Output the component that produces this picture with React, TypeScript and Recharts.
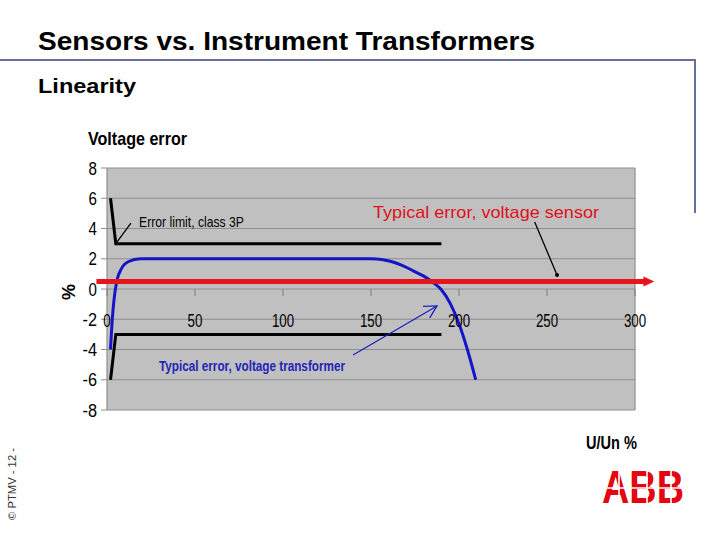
import React from 'react';
import { LineChart, Line, XAxis, YAxis, CartesianGrid, ReferenceLine } from 'recharts';

// ---------- data ----------
const limitX = [2, 5, 190];
const upperLimit = [6, 3, 3];
const lowerLimit = [-6, -3, -3];

const vtX = [2, 3, 4, 5.5, 8, 12, 19, 150, 156, 162, 168, 174, 180, 185, 190, 195, 200, 205, 209.5];
const vtError = [-4, -2, -0.7, 0.5, 1.3, 1.8, 2.0, 2.0, 1.95, 1.8, 1.55, 1.2, 0.85, 0.45, -0.05, -0.95, -2.3, -4.1, -6];

const sensorX = [-6, 311];
const sensorError = [0.5, 0.5];

const xTicks = [0, 50, 100, 150, 200, 250, 300];
const yTicks = [-8, -6, -4, -2, 0, 2, 4, 6, 8];

// annotation pointers (data coordinates)
const limitPointerX = [5, 13.6];
const limitPointerY = [3, 4.36];
const sensorPointerX = [243, 255.7];
const sensorPointerY = [4.43, 0.93];
const vtArrowX = [139.8, 187.5];
const vtArrowY = [-4.36, -1.12];

// ---------- layout ----------
const W = 720;
const H = 540;
const MARGIN = { top: 168, right: 85, bottom: 100, left: 67 };
const Y_AXIS_W = 40;
const X_AXIS_H = 30;
const PLOT_TOP = MARGIN.top;
const PLOT_H = H - MARGIN.top - MARGIN.bottom - X_AXIS_H;
const ZERO_Y = PLOT_TOP + PLOT_H / 2;

const NARROW = "'Liberation Sans Narrow', 'Arial Narrow', 'DejaVu Sans Condensed', sans-serif";
const ARIAL = "'Liberation Sans', Arial, sans-serif";

const toPts = (xs: number[], ys: number[]) => xs.map((x, i) => ({ x, y: ys[i] }));
const upperData = toPts(limitX, upperLimit);
const lowerData = toPts(limitX, lowerLimit);
const vtData = toPts(vtX, vtError);

const XTick = (props: any) => {
  const { x, payload } = props;
  const s = String(payload.value);
  return (
    <g>
      <line x1={x} x2={x} y1={ZERO_Y} y2={ZERO_Y + 7} stroke="#7c7c7c" strokeWidth={1} />
      <text
        x={x}
        y={ZERO_Y + 38}
        textAnchor="middle"
        fontFamily={ARIAL}
        fontSize={18}
        textLength={s.length * 7.4}
        lengthAdjust="spacingAndGlyphs"
        fill="#000"
      >
        {s}
      </text>
    </g>
  );
};

const YTick = (props: any) => {
  const { x, y, payload } = props;
  const s = String(payload.value);
  return (
    <text
      x={x}
      y={y}
      dy={6.5}
      textAnchor="end"
      fontFamily={ARIAL}
      fontSize={18}
      textLength={s.length === 1 ? 8.4 : 14.5}
      lengthAdjust="spacingAndGlyphs"
      fill="#000"
    >
      {s}
    </text>
  );
};

const RedArrow = (p: any) => {
  const { x1, y1, x2, y2 } = p;
  return (
    <g>
      <line x1={x1} y1={y1} x2={x2 - 8} y2={y2} stroke="#e8141c" strokeWidth={5} />
      <polygon points={`${x2 - 11},${y2 - 5} ${x2},${y2} ${x2 - 11},${y2 + 5}`} fill="#e8141c" />
    </g>
  );
};

const Pointer = (p: any) => {
  const { x1, y1, x2, y2 } = p;
  return <line x1={x1} y1={y1} x2={x2} y2={y2} stroke="#000" strokeWidth={1.3} />;
};

const DotPointer = (p: any) => {
  const { x1, y1, x2, y2 } = p;
  return (
    <g>
      <line x1={x1} y1={y1} x2={x2} y2={y2} stroke="#000" strokeWidth={1.3} />
      <circle cx={x2} cy={y2} r={2} fill="#000" />
    </g>
  );
};

const OpenArrow = (p: any) => {
  const { x1, y1, x2, y2 } = p;
  const a = Math.atan2(y2 - y1, x2 - x1);
  const L = 14;
  const s = 0.5;
  const w1x = x2 - L * Math.cos(a - s);
  const w1y = y2 - L * Math.sin(a - s);
  const w2x = x2 - L * Math.cos(a + s);
  const w2y = y2 - L * Math.sin(a + s);
  return (
    <g stroke="#2020c0" strokeWidth={1.3} fill="none">
      <line x1={x1} y1={y1} x2={x2} y2={y2} />
      <polyline points={`${w1x},${w1y} ${x2},${y2} ${w2x},${w2y}`} />
    </g>
  );
};

export default function App() {
  return (
    <div style={{ position: 'absolute', left: 0, top: 0, width: W, height: H, background: '#fff' }}>
      <LineChart width={W} height={H} margin={MARGIN}>
        <CartesianGrid
          fill="#c0c0c0"
          stroke="#8e8e8e"
          strokeWidth={1.2}
          horizontalValues={yTicks}
          verticalValues={[0, 300]}
        />
        <XAxis
          type="number"
          dataKey="x"
          domain={[0, 300]}
          ticks={xTicks}
          allowDataOverflow
          axisLine={false}
          tickLine={false}
          height={X_AXIS_H}
          tick={<XTick />}
          interval={0}
        />
        <YAxis
          type="number"
          dataKey="y"
          domain={[-8, 8]}
          ticks={yTicks}
          allowDataOverflow
          axisLine={false}
          tickLine={{ stroke: '#8e8e8e' }}
          tickSize={6}
          tickMargin={4}
          width={Y_AXIS_W}
          tick={<YTick />}
          interval={0}
        />
        <Line data={upperData} dataKey="y" type="linear" stroke="#000" strokeWidth={3} dot={false} isAnimationActive={false} />
        <Line data={lowerData} dataKey="y" type="linear" stroke="#000" strokeWidth={3} dot={false} isAnimationActive={false} />
        <Line data={vtData} dataKey="y" type="monotone" stroke="#1414c8" strokeWidth={3} dot={false} isAnimationActive={false} />
        <ReferenceLine
          segment={toPts(sensorX, sensorError)}
          ifOverflow="visible"
          shape={(p: any) => <RedArrow {...p} />}
        />
        <ReferenceLine
          segment={toPts(limitPointerX, limitPointerY)}
          ifOverflow="visible"
          shape={(p: any) => <Pointer {...p} />}
        />
        <ReferenceLine
          segment={toPts(sensorPointerX, sensorPointerY)}
          ifOverflow="visible"
          shape={(p: any) => <DotPointer {...p} />}
        />
        <ReferenceLine
          segment={toPts(vtArrowX, vtArrowY)}
          ifOverflow="visible"
          shape={(p: any) => <OpenArrow {...p} />}
        />
      </LineChart>
      <svg
        width={W}
        height={H}
        style={{ position: 'absolute', left: 0, top: 0, pointerEvents: 'none' }}
      >
        <text x={38} y={50} fontFamily={ARIAL} fontWeight="bold" fontSize={26} textLength={497} lengthAdjust="spacingAndGlyphs" fill="#000">
          Sensors vs. Instrument Transformers
        </text>
        <polyline points="0,60 695,60 695,213" fill="none" stroke="#6a6e9e" strokeWidth={2} />
        <text x={38} y={93} fontFamily={ARIAL} fontWeight="bold" fontSize={20} textLength={98} lengthAdjust="spacingAndGlyphs" fill="#000">
          Linearity
        </text>
        <text x={88} y={145} fontFamily={ARIAL} fontWeight="bold" fontSize={19} textLength={99} lengthAdjust="spacingAndGlyphs" fill="#000">
          Voltage error
        </text>
        <text x={139} y={227} fontFamily={ARIAL} fontSize={15} textLength={105} lengthAdjust="spacingAndGlyphs" fill="#000">
          Error limit, class 3P
        </text>
        <text x={373} y={218} fontFamily={ARIAL} fontSize={17} textLength={226} lengthAdjust="spacingAndGlyphs" fill="#e0101a">
          Typical error, voltage sensor
        </text>
        <text x={159} y={371} fontFamily={ARIAL} fontWeight="bold" fontSize={15} textLength={186} lengthAdjust="spacingAndGlyphs" fill="#2424b8">
          Typical error, voltage transformer
        </text>
        <text x={0} y={0} transform="translate(75,292) rotate(-90)" textAnchor="middle" fontFamily={ARIAL} fontWeight="bold" fontSize={18} fill="#000">
          %
        </text>
        <text x={586} y={449} fontFamily={ARIAL} fontWeight="bold" fontSize={19} textLength={51} lengthAdjust="spacingAndGlyphs" fill="#000">
          U/Un %
        </text>
        <text x={0} y={0} transform="translate(16,520) rotate(-90)" fontFamily={ARIAL} fontSize={10} textLength={72} lengthAdjust="spacingAndGlyphs" fill="#333">
          © PTMV   - 12 -
        </text>
        <g>
          <text x={602} y={503} fontFamily={ARIAL} fontWeight="bold" fontSize={46} textLength={82} lengthAdjust="spacingAndGlyphs" fill="#e30613">
            ABB
          </text>
          <line x1={598} x2={690} y1={488} y2={488} stroke="#fff" strokeWidth={1.6} />
          <line x1={619} x2={619} y1={466} y2={506} stroke="#fff" strokeWidth={1.6} />
          <line x1={647} x2={647} y1={466} y2={506} stroke="#fff" strokeWidth={1.6} />
          <line x1={671} x2={671} y1={466} y2={506} stroke="#fff" strokeWidth={1.6} />
        </g>
      </svg>
    </div>
  );
}
